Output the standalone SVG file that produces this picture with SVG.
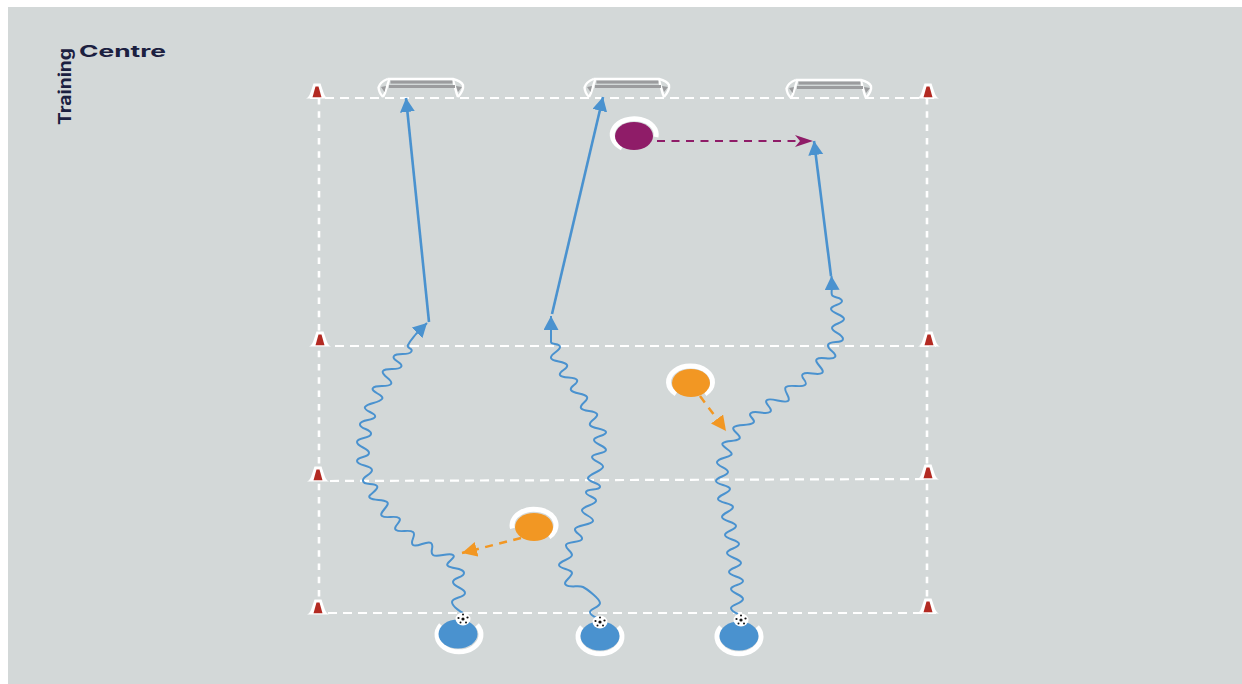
<svg xmlns="http://www.w3.org/2000/svg" width="1242" height="684" viewBox="0 0 1242 684">
<style>
.fieldh{fill:none;stroke:#fff;stroke-width:2.2;stroke-dasharray:9 6}
.fieldv{fill:none;stroke:#fff;stroke-width:2.6;stroke-dasharray:6.5 6.8}
.wave{fill:none;stroke:#4a92cf;stroke-width:2;stroke-linejoin:round}
.run{fill:none;stroke:#4a92cf;stroke-width:2.6}
.ring{fill:none;stroke:#fff;stroke-width:5}
.logo{font-family:"Inter","Liberation Sans",Arial,sans-serif;font-weight:700;fill:#1b2040}
.gw{fill:none;stroke:#fff;stroke-width:2.4;stroke-linejoin:round}
.gb{fill:#9b9c9e}
.blue{fill:#4a92cf}
.orange{fill:#f29723}
.purple{fill:#8f1c68}
.ball{fill:#fff}
.dot{fill:#111}
</style>
<defs>
<marker id="hb" markerUnits="userSpaceOnUse" markerWidth="16" markerHeight="16" refX="14" refY="7.5" orient="auto"><path d="M0,0L14,7.5L0,15z" fill="#4a92cf"/></marker>
<marker id="ho" markerUnits="userSpaceOnUse" markerWidth="17" markerHeight="16" refX="15" refY="7.5" orient="auto"><path d="M0,0L15,7.5L0,15z" fill="#f29723"/></marker>
<marker id="hp" markerUnits="userSpaceOnUse" markerWidth="20" markerHeight="14" refX="18" refY="6" orient="auto"><path d="M0,0L18,6L0,12L5,6z" fill="#8f1c68"/></marker>
<g id="cone"><path d="M-11,7.5Q-8,7 -6,0L-3.5,-7.5H3.5L6,0Q8,7 11,7.5z" fill="#fff"/><path d="M-4.5,6.2L-1.5,-4.5H1.5L4.5,6.2z" fill="#b32a22"/></g>
<g id="goal">
<path class="gw" d="M9.5,1H75Q83,3 85,7Q86,12 80,19M9.5,1Q2,4 0.5,9.5Q1,15 5,19"/>
<path class="gw" d="M11,2L7,15L5,19M75,2L78.5,15L80,19"/>
<rect class="gb" x="12.5" y="2.6" width="62" height="3"/>
<rect class="gb" x="11" y="7" width="66" height="3"/>
<path class="gb" d="M3,9L8,8L6.5,14zM78,8L84,9L80,14z"/>
</g>
<g id="ballg"><ellipse class="ball" rx="7.5" ry="6.5"/><circle class="dot" r="1.6"/><circle class="dot" cx="-4.5" cy="-1" r="1.1"/><circle class="dot" cx="4.5" cy="-1.5" r="1.1"/><circle class="dot" cx="-2.5" cy="3.5" r="1"/><circle class="dot" cx="3" cy="3.5" r="1"/><circle class="dot" cx="0" cy="-4.5" r="1"/></g>
</defs>
<rect x="8" y="7" width="1234" height="677" fill="#d3d8d8"/>
<g id="logo">
<text class="logo" x="79" y="57" font-size="16" textLength="87" lengthAdjust="spacingAndGlyphs">Centre</text>
<text class="logo" transform="translate(71,125) rotate(-90)" font-size="17" textLength="77" lengthAdjust="spacingAndGlyphs">Training</text>
</g>
<g id="pitch-lines">
<path class="fieldh" d="M310,98H937"/>
<path class="fieldh" d="M335,346H936"/>
<path class="fieldh" d="M330,481L930,479"/>
<path class="fieldh" d="M328,613H936"/>
<path class="fieldv" d="M319,98V613"/>
<path class="fieldv" d="M927,98V613"/>
</g>
<g id="goal-1"><use href="#goal" x="378" y="78"/></g>
<g id="goal-2"><use href="#goal" x="584" y="78"/></g>
<g id="goal-3"><use href="#goal" x="786" y="79"/></g>
<g id="cone-1"><use href="#cone" x="317" y="91"/></g>
<g id="cone-2"><use href="#cone" x="320" y="339"/></g>
<g id="cone-3"><use href="#cone" x="318" y="474"/></g>
<g id="cone-4"><use href="#cone" x="318" y="607"/></g>
<g id="cone-5"><use href="#cone" x="928" y="91"/></g>
<g id="cone-6"><use href="#cone" x="929" y="339"/></g>
<g id="cone-7"><use href="#cone" x="928" y="472"/></g>
<g id="cone-8"><use href="#cone" x="928" y="606"/></g>
<g id="connectors">
<path class="wave" marker-end="url(#hb)" d="M463,613S452,607 452,602S465,598 465,593S453,587 453,582S464,578 464,573S452,569 448,566S457,558 453,555S437,558 433,555S435,546 431,543S417,548 413,545S417,535 413,532S400,533 396,530S403,521 399,518S386,519 382,516S391,505 387,502S374,501 370,498S380,490 377,486S364,486 363,481S372,475 372,470S357,466 357,461S369,458 369,453S357,447 357,442S370,439 371,434S359,429 360,424S373,421 375,417S363,411 365,407S379,403 382,399S370,392 373,388S388,388 391,384S380,375 383,371S398,371 401,367S391,360 394,356S408,356 411,352S406,349 408,345S412,339 416,334L427,323"/>
<path class="run" marker-end="url(#hb)" d="M429,322L406,98"/>
<path class="wave" marker-end="url(#hb)" d="M597,618S590,615 590,612S600,607 600,603S587,589 583,587S570,588 566,585S572,577 572,573S559,569 559,565S572,559 572,555S565,549 566,545S581,543 582,539S574,533 575,529S592,525 593,521S581,514 582,510S595,505 596,501S585,496 586,492S599,491 600,487S587,482 588,478S602,471 603,467S592,461 592,457S606,454 606,450S594,444 594,440S607,436 606,432S592,429 590,425S599,418 597,414S583,412 581,408S589,401 587,397S573,394 571,390S579,384 577,380S562,379 560,375S569,369 567,365S552,362 551,358S560,351 560,347S551,345 551,342S551,334 551,330L551,316"/>
<path class="run" marker-end="url(#hb)" d="M552,314L603,97"/>
<path class="wave" marker-end="url(#hb)" d="M738,614S731,611 731,608S743,603 743,599S731,593 731,589S743,585 743,581S729,576 729,572S741,567 741,563S727,557 727,553S739,548 739,544S725,539 725,535S736,530 736,526S722,521 722,517S733,511 733,507S718,503 718,499S730,493 730,489S716,485 716,481S728,476 728,472S716,466 717,462S727,458 731,455S719,446 723,443S735,442 739,439S730,430 734,427S749,426 753,423S747,416 751,413S766,415 770,412S763,403 767,400S784,404 788,401S782,390 786,387S801,388 805,385S799,377 803,374S818,376 822,373S813,362 817,359S832,361 835,357S827,350 828,345S843,344 843,339S832,332 832,328S844,323 844,319S831,313 831,309S842,305 842,301S833,298 832,295S832,290 832,287L831.5,276"/>
<path class="run" marker-end="url(#hb)" d="M831,276L814,141"/>
<path fill="none" stroke="#8f1c68" stroke-width="2.2" stroke-dasharray="8 6.5" marker-end="url(#hp)" d="M657,141H813"/>
<path fill="none" stroke="#f29723" stroke-width="2.5" stroke-dasharray="8 6.5" marker-end="url(#ho)" d="M521,538L462,553"/>
<path fill="none" stroke="#f29723" stroke-width="2.5" stroke-dasharray="8 6.5" marker-end="url(#ho)" d="M700,396L726,431"/>
</g>
<g id="player-purple"><path class="ring" d="M622,148A22,16 0 1 1 656,137"/><ellipse class="purple" cx="634" cy="136" rx="19" ry="14"/></g>
<g id="player-orange-1"><path class="ring" d="M676,394A22,16 0 1 1 705,394"/><ellipse class="orange" cx="691" cy="383" rx="19" ry="14"/></g>
<g id="player-orange-2"><path class="ring" d="M512.5,528.4A22,16 0 1 1 549,537"/><ellipse class="orange" cx="534" cy="527" rx="19" ry="14"/></g>
<g id="player-blue-1"><path class="ring" d="M477,625A22,17 0 1 1 441,625"/><ellipse class="blue" cx="458" cy="634" rx="19.5" ry="14.5"/></g>
<g id="player-blue-2"><path class="ring" d="M618,627A22,17 0 1 1 582,627"/><ellipse class="blue" cx="600" cy="636" rx="19.5" ry="14.5"/></g>
<g id="player-blue-3"><path class="ring" d="M757,627A22,17 0 1 1 721,627"/><ellipse class="blue" cx="739" cy="636" rx="19.5" ry="14.5"/></g>
<g id="ball-1"><use href="#ballg" x="463" y="619"/></g>
<g id="ball-2"><use href="#ballg" x="600" y="622"/></g>
<g id="ball-3"><use href="#ballg" x="741" y="620"/></g>
</svg>
